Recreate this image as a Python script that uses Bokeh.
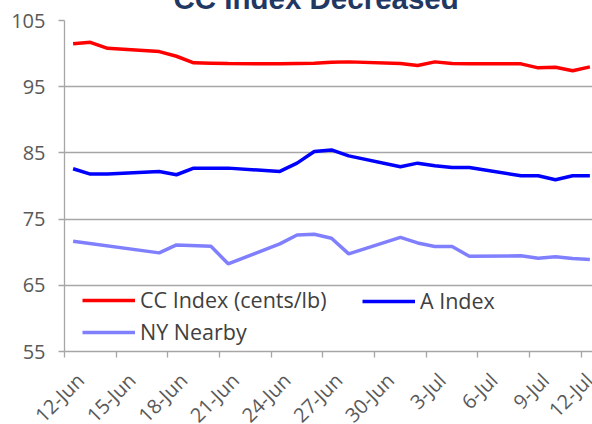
import pandas as pd
from bokeh.plotting import figure
from bokeh.layouts import column
from bokeh.models import (ColumnDataSource, FixedTicker, DatetimeAxis, CustomJSTickFormatter,
                          Legend, LegendItem, Title, Range1d)
from bokeh.embed import file_html
from bokeh.resources import INLINE

# ---------------- data ----------------
main_dates = ["2024-06-12", "2024-06-13", "2024-06-14", "2024-06-17", "2024-06-18", "2024-06-19",
              "2024-06-20", "2024-06-21", "2024-06-24", "2024-06-25", "2024-06-26", "2024-06-27",
              "2024-06-28", "2024-07-01", "2024-07-02", "2024-07-03", "2024-07-04", "2024-07-05",
              "2024-07-08", "2024-07-09", "2024-07-10", "2024-07-11", "2024-07-12"]
cc_index = [101.5, 101.7, 100.8, 100.3, 99.6, 98.6,
            98.55, 98.5, 98.45, 98.5, 98.55, 98.7,
            98.75, 98.5, 98.2, 98.75, 98.5, 98.45,
            98.45, 97.85, 97.95, 97.4, 98.0]
a_index = [82.6, 81.8, 81.8, 82.2, 81.7, 82.7,
           82.7, 82.7, 82.2, 83.45, 85.2, 85.45,
           84.55, 82.9, 83.45, 83.05, 82.8, 82.8,
           81.55, 81.55, 80.95, 81.55, 81.55]
ny_dates = ["2024-06-12", "2024-06-17", "2024-06-18", "2024-06-20", "2024-06-21", "2024-06-24",
            "2024-06-25", "2024-06-26", "2024-06-27", "2024-06-28", "2024-07-01", "2024-07-02",
            "2024-07-03", "2024-07-04", "2024-07-05", "2024-07-08", "2024-07-09", "2024-07-10",
            "2024-07-11", "2024-07-12"]
ny_nearby = [71.65, 69.9, 71.1, 70.9, 68.25, 71.25,
             72.6, 72.7, 72.1, 69.75, 72.25, 71.4,
             70.85, 70.85, 69.4, 69.45, 69.1, 69.3,
             69.05, 68.9]
x_tick_labels = ["12-Jun", "15-Jun", "18-Jun", "21-Jun", "24-Jun", "27-Jun",
                 "30-Jun", "3-Jul", "6-Jul", "9-Jul", "12-Jul"]
y_ticks = [55, 65, 75, 85, 95, 105]
series_names = ["CC Index (cents/lb)", "A Index", "NY Nearby"]
title_text = "CC Index Decreased"

# ---------------- styling ----------------
FONT = "Open Sans"
GRID = "#A6A6A6"
TXT = "#595959"
SHIFT_UP = 29      # canvas starts above the window, so the title's top is cut off as in the reference
EXTRA_BOTTOM = 24  # canvas runs past the window bottom (clipped by the wrapper)

half_day = pd.Timedelta(hours=12)
main_x = pd.to_datetime(main_dates) + half_day
ny_x = pd.to_datetime(ny_dates) + half_day
tick_dates = pd.to_datetime([t + "-2024" for t in x_tick_labels], format="%d-%b-%Y")
tick_ms = [float(t.value // 10**6) for t in tick_dates]
label_ms = [float((t + pd.Timedelta(hours=22)).value // 10**6) for t in tick_dates]

src = ColumnDataSource(dict(x=main_x, cc=cc_index, a=a_index))
src_ny = ColumnDataSource(dict(x=ny_x, ny=ny_nearby))

W, H = 592, 424
PW = 598           # plot area runs slightly past the window's right edge, as in the reference
PH = H + SHIFT_UP + EXTRA_BOTTOM
top_border = 20 + SHIFT_UP
frame_h = 331
p = figure(width=PW, height=PH, x_axis_type="datetime",
           x_range=Range1d(tick_dates[0], tick_dates[-1] + pd.Timedelta(days=1)),
           y_range=Range1d(y_ticks[0], y_ticks[-1]),
           output_backend="svg", toolbar_location=None,
           min_border_left=64, min_border_right=0, min_border_top=top_border,
           min_border_bottom=PH - top_border - frame_h)
p.styles = {"position": "relative", "top": f"-{SHIFT_UP}px", "flex-shrink": "0",
            "min-height": f"{PH}px", "min-width": f"{PW}px"}
p.outline_line_color = None
p.background_fill_color = "white"
p.border_fill_color = "white"

p.title = Title(text=title_text, align="left", offset=109, standoff=11,
                text_font="Liberation Sans", text_font_style="bold",
                text_font_size="29.5px", text_color="#1F3864")

r_cc = p.line("x", "cc", source=src, line_color="#FF0000", line_width=3.5)
r_a = p.line("x", "a", source=src, line_color="#0000FF", line_width=3.5)
r_ny = p.line("x", "ny", source=src_ny, line_color="#8080FF", line_width=3.5)

# y axis
p.yaxis.ticker = FixedTicker(ticks=y_ticks)
p.yaxis.major_tick_out = 6
p.yaxis.major_tick_in = 0
p.yaxis.minor_tick_line_color = None
p.yaxis.axis_line_color = GRID
p.yaxis.axis_line_width = 1.3
p.yaxis.major_tick_line_color = GRID
p.yaxis.major_tick_line_width = 1.3
p.yaxis.major_label_standoff = 13
p.yaxis.major_label_text_font = FONT
p.yaxis.major_label_text_font_size = "20px"
p.yaxis.major_label_text_color = TXT
p.ygrid.ticker = FixedTicker(ticks=y_ticks)
p.ygrid.grid_line_color = GRID
p.ygrid.grid_line_width = 1.3
p.xgrid.grid_line_color = None

# x axis: ticks + line
xa = p.xaxis[0]
xa.ticker = FixedTicker(ticks=tick_ms)
xa.major_tick_out = 6
xa.major_tick_in = 0
xa.minor_tick_line_color = None
xa.axis_line_color = GRID
xa.axis_line_width = 1.3
xa.major_tick_line_color = GRID
xa.major_tick_line_width = 1.3
xa.formatter = CustomJSTickFormatter(code="return '';")
xa.major_label_standoff = 0
xa.major_label_text_font_size = "1px"

# x axis labels (rotated)
fmt_code = """
const m = ["Jan","Feb","Mar","Apr","May","Jun","Jul","Aug","Sep","Oct","Nov","Dec"];
const d = new Date(tick);
return d.getUTCDate() + "-" + m[d.getUTCMonth()];
"""
xl = DatetimeAxis(ticker=FixedTicker(ticks=label_ms),
                  formatter=CustomJSTickFormatter(code=fmt_code),
                  axis_line_color=None, major_tick_line_color=None, minor_tick_line_color=None,
                  major_tick_out=0, major_tick_in=0,
                  major_label_orientation=0.785398, major_label_standoff=19,
                  major_label_text_font=FONT, major_label_text_font_size="20px",
                  major_label_text_color=TXT)
p.add_layout(xl, "below")

# legends
leg_kw = dict(glyph_width=53, glyph_height=28, label_height=28, label_standoff=5, spacing=3,
              padding=0, margin=0, border_line_color=None, background_fill_alpha=0,
              label_text_font=FONT, label_text_font_size="21.5px", label_text_color="#404040")
leg1 = Legend(items=[LegendItem(label=series_names[0], renderers=[r_cc]),
                     LegendItem(label=series_names[2], renderers=[r_ny])],
              location=(18, 5), **leg_kw)
leg2 = Legend(items=[LegendItem(label=series_names[1], renderers=[r_a])],
              location=(298, 36), **leg_kw)
p.add_layout(leg1)
p.add_layout(leg2)

page = column(p, width=W, height=H, sizing_mode="fixed", styles={"overflow": "hidden"})

open("out.html", "w").write(file_html(page, INLINE))
